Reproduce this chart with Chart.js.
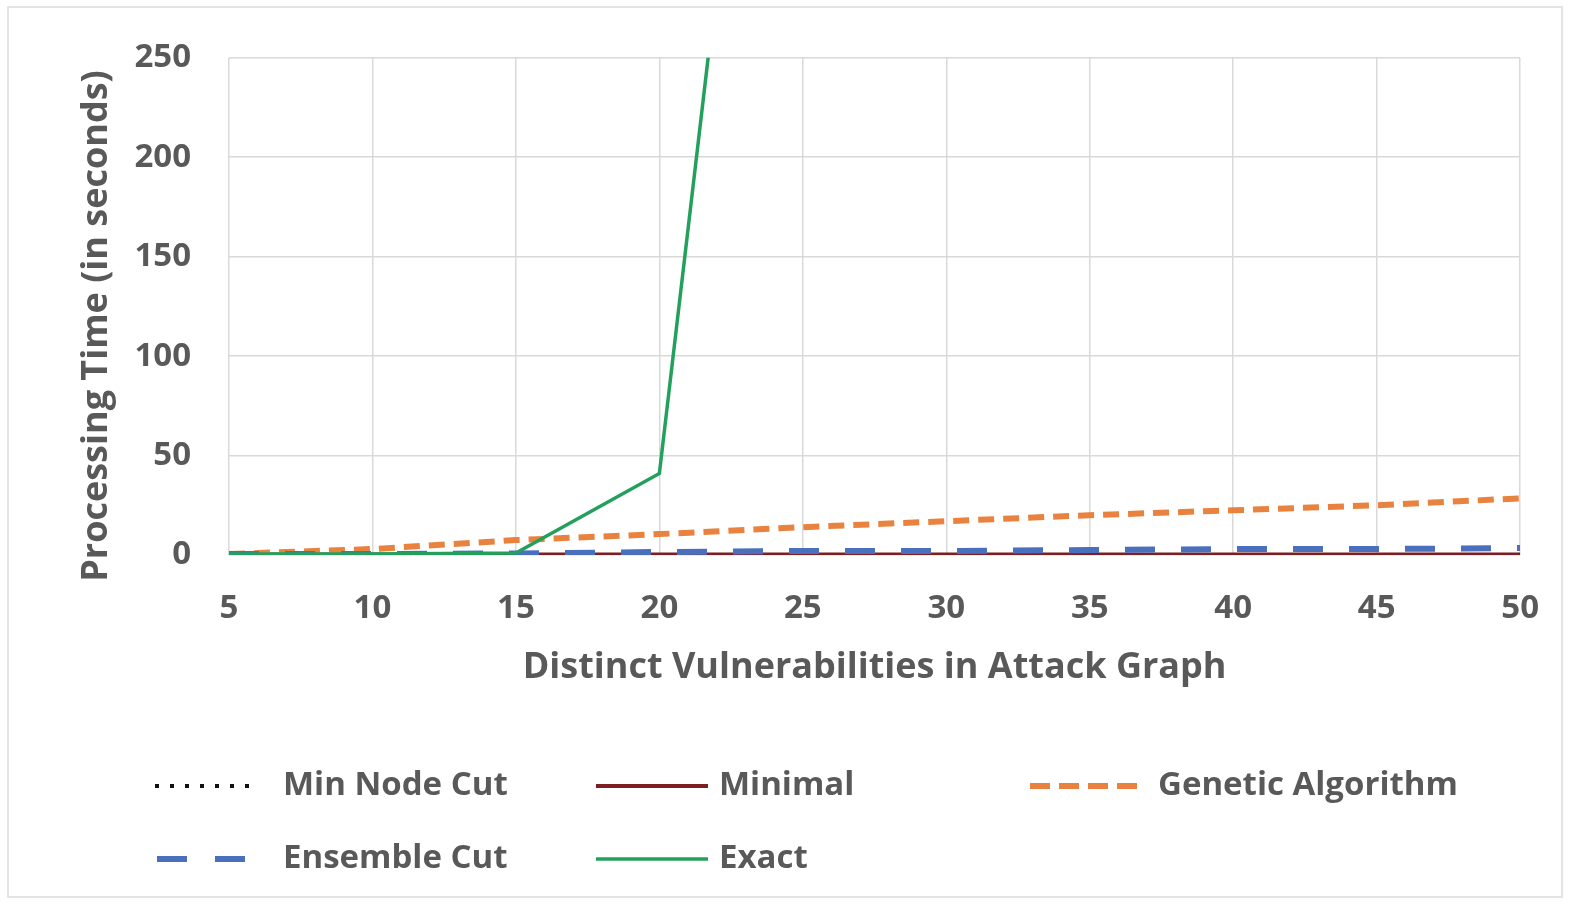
<!DOCTYPE html>
<html>
<head>
<meta charset="utf-8">
<script src="https://cdn.jsdelivr.net/npm/chart.js@4.4.1/dist/chart.umd.min.js"></script>
<style>
  html, body { margin: 0; padding: 0; background: #fff; }
  #frame {
    position: absolute; left: 7px; top: 6px; width: 1556px; height: 892px;
    border: 2px solid #e4e4e4; box-sizing: border-box;
  }
  #wrap { position: absolute; left: 0; top: 0; width: 1573px; height: 908px; }
</style>
</head>
<body>
<div id="frame"></div>
<div id="wrap"><canvas id="timeChart"></canvas></div>
<script>
// Data
const vulnCounts = [5, 10, 15, 20, 25, 30, 35, 40, 45, 50];
const minNodeCut = [0, 0, 0, 0, 0, 0, 0, 0, 0, 0];
const minimal = [0.2, 0.2, 0.2, 0.3, 0.3, 0.3, 0.3, 0.3, 0.3, 0.3];
const geneticAlgorithm = [0.5, 3, 7.5, 10.5, 14, 17, 20, 22.5, 25, 28.5];
const ensembleCut = [0.5, 0.5, 0.8, 1.5, 2, 2, 2.5, 3, 3, 3.5];
const exact = [0.5, 0.5, 1, 41, 656];
const yTicks = [0, 50, 100, 150, 200, 250];

const tickColor = "#595959";
const fontFamily = "'Open Sans', 'Liberation Sans', sans-serif";

function toPoints(values) {
  return values.map((v, i) => ({ x: vulnCounts[i], y: v }));
}

// Legend drawn in the canvas, laid out like the original (3 columns, 2 rows)
const legendSlots = [
  { x1: 155, x2: 258, tx: 283, y: 786 },
  { x1: 596, x2: 708, tx: 719, y: 786 },
  { x1: 1030, x2: 1145, tx: 1158, y: 786 },
  { x1: 157, x2: 245, tx: 283, y: 859 },
  { x1: 596, x2: 708, tx: 719, y: 859 },
];

const bottomLegend = {
  id: "bottomLegend",
  afterDraw(chart) {
    const ctx = chart.ctx;

    // y axis title, placed a bit below the plot centre as in the original
    ctx.save();
    ctx.translate(97, 326);
    ctx.rotate(-Math.PI / 2);
    ctx.fillStyle = tickColor;
    ctx.font = "700 36px " + fontFamily;
    ctx.textAlign = "center";
    ctx.textBaseline = "middle";
    ctx.fillText("Processing Time (in seconds)", 0, 0);
    ctx.restore();

    chart.data.datasets.forEach((ds, i) => {
      const slot = legendSlots[i];
      if (!slot) return;
      ctx.save();
      ctx.strokeStyle = ds.borderColor;
      ctx.lineWidth = ds.legendWidth || ds.borderWidth;
      ctx.lineCap = ds.borderCapStyle || "butt";
      ctx.setLineDash(ds.legendDash || ds.borderDash || []);
      ctx.beginPath();
      ctx.moveTo(slot.x1, slot.y);
      ctx.lineTo(slot.x2, slot.y);
      ctx.stroke();
      ctx.setLineDash([]);
      ctx.fillStyle = tickColor;
      ctx.font = "700 33px " + fontFamily;
      ctx.textBaseline = "middle";
      ctx.textAlign = "left";
      ctx.fillText(ds.label, slot.tx, slot.y);
      ctx.restore();
    });
  },
};

document.addEventListener("DOMContentLoaded", function () {
  const ctx = document.getElementById("timeChart");

  new Chart(ctx, {
    type: "line",
    data: {
      datasets: [
        {
          label: "Min Node Cut",
          data: toPoints(minNodeCut),
          borderColor: "#111111",
          borderWidth: 3,
          borderDash: [3, 7],
          legendWidth: 4,
          legendDash: [4, 11],
          order: 4,
        },
        {
          label: "Minimal",
          data: toPoints(minimal),
          borderColor: "#7d1f22",
          borderWidth: 4,
          order: 3,
        },
        {
          label: "Genetic Algorithm",
          data: toPoints(geneticAlgorithm),
          borderColor: "#e8823e",
          borderWidth: 6,
          borderDash: [16, 9],
          legendDash: [20, 9],
          order: 2,
        },
        {
          label: "Ensemble Cut",
          data: toPoints(ensembleCut),
          borderColor: "#4a6fbd",
          borderWidth: 6,
          borderDash: [30, 26],
          legendDash: [30, 28],
          order: 1,
        },
        {
          label: "Exact",
          data: toPoints(exact),
          borderColor: "#23a05c",
          borderWidth: 3.5,
          order: 0,
        },
      ],
    },
    options: {
      responsive: true,
      maintainAspectRatio: false,
      animation: false,
      layout: {
        padding: { left: 0, top: 49, right: 51, bottom: 0 },
      },
      elements: {
        point: { radius: 0, hoverRadius: 0 },
        line: { tension: 0, fill: false },
      },
      plugins: {
        legend: { display: false },
        tooltip: { enabled: false },
      },
      scales: {
        x: {
          type: "linear",
          min: 5,
          max: 50,
          afterBuildTicks: function (scale) {
            scale.ticks = vulnCounts.map((v) => ({ value: v }));
          },
          afterFit: function (scale) {
            scale.height = 353;
          },
          grid: { color: "#d9d9d9", lineWidth: 1.5, drawTicks: false },
          border: { display: false },
          ticks: {
            color: tickColor,
            padding: 34,
            maxRotation: 0,
            font: { family: fontFamily, size: 33, weight: "700" },
          },
          title: {
            display: true,
            text: "Distinct Vulnerabilities in Attack Graph",
            color: tickColor,
            padding: { top: 0, bottom: 219 },
            font: { family: fontFamily, size: 36, weight: "700" },
          },
        },
        y: {
          min: 0,
          max: 250,
          afterBuildTicks: function (scale) {
            scale.ticks = yTicks.map((v) => ({ value: v }));
          },
          afterFit: function (scale) {
            scale.width = 229;
          },
          grid: { color: "#d9d9d9", lineWidth: 1.5, drawTicks: false },
          border: { display: false },
          ticks: {
            color: tickColor,
            padding: 38,
            font: { family: fontFamily, size: 33, weight: "700" },
          },
        },
      },
    },
    plugins: [bottomLegend],
  });
});
</script>
</body>
</html>
